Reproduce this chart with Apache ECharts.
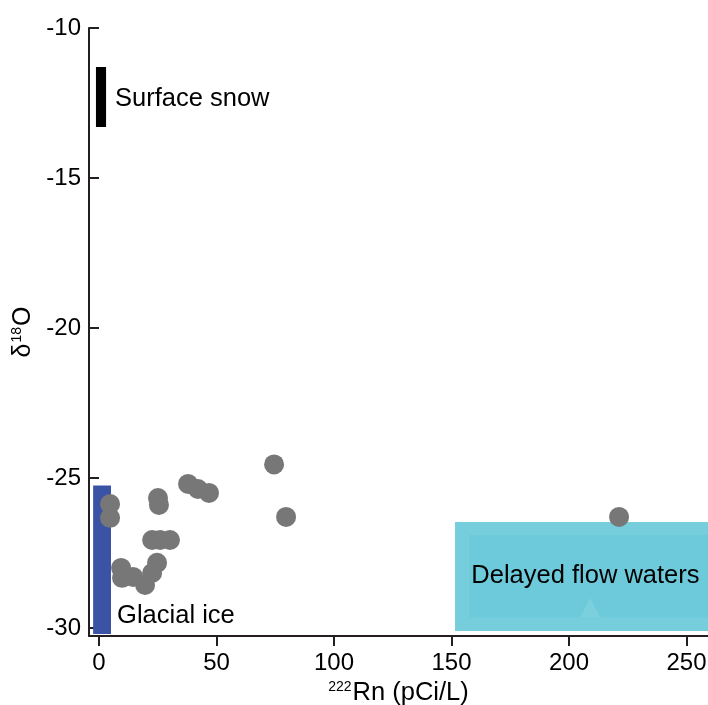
<!DOCTYPE html>
<html>
<head>
<meta charset="utf-8">
<script src="https://cdn.jsdelivr.net/npm/echarts@6/dist/echarts.min.js"></script>
<style>html,body{margin:0;padding:0;background:#fff}#c{width:708px;height:705px}</style>
</head>
<body>
<div id="c"></div>
<script>
// Samples: [Rn-222 (pCi/L), delta18O]
const samples = [
  [4.7, -25.87], [4.7, -26.33],
  [9.4, -28.0], [9.8, -28.33], [14.5, -28.3], [19.6, -28.57], [22.6, -28.17], [24.7, -27.83],
  [22.6, -27.07], [26.0, -27.07], [30.2, -27.07],
  [25.1, -25.67], [25.5, -25.9],
  [37.9, -25.2], [42.1, -25.37], [46.8, -25.5],
  [74.5, -24.55], [79.6, -26.3], [221.3, -26.3]
];
// End-member ranges: [xFrom, xTo, yFrom, yTo]
const surfaceSnow = [-1.3, 3.0, -11.3, -13.3];
const glacialIce = [-2.5, 5.1, -25.25, -30.2];
const delayedFlow = [151.5, 262, -26.47, -30.1];
const delayedFlowInner = [157.5, 262, -26.9, -29.65];
// Labels: [x, y, text]
const labels = [
  [6.8, -12.35, 'Surface snow'],
  [7.7, -29.6, 'Glacial ice'],
  [207.0, -28.28, 'Delayed flow waters']
];
const xTicks = [0, 50, 100, 150, 200, 250];
const yTicks = [-30, -25, -20, -15, -10];

const FONT = '"Liberation Sans", Arial, Helvetica, sans-serif';

function rectItem(r, color) {
  return function (params, api) {
    const p0 = api.coord([r[0], r[2]]);
    const p1 = api.coord([r[1], r[3]]);
    return {
      type: 'rect',
      shape: { x: Math.min(p0[0], p1[0]), y: Math.min(p0[1], p1[1]), width: Math.abs(p1[0] - p0[0]), height: Math.abs(p1[1] - p0[1]) },
      style: { fill: color }
    };
  };
}

const chart = echarts.init(document.getElementById('c'), null, { renderer: 'canvas' });
chart.setOption({
  animation: false,
  backgroundColor: '#ffffff',
  grid: { left: 89, right: 0, top: 28, bottom: 69, containLabel: false, outerBoundsMode: 'none' },
  xAxis: {
    type: 'value', min: -4.26, max: 259.15,
    splitLine: { show: false },
    axisLine: { onZero: false, lineStyle: { color: '#231f20', width: 2 } },
    axisTick: { show: true, inside: false, length: 10, customValues: xTicks, lineStyle: { color: '#231f20', width: 2 } },
    axisLabel: { customValues: xTicks, fontSize: 24, color: '#000', fontFamily: FONT, margin: 15 },
    name: '{s|222}{n|Rn (pCi/L)}',
    nameLocation: 'middle', nameGap: 42,
    nameTextStyle: {
      fontFamily: FONT,
      rich: {
        s: { fontSize: 14, fontFamily: FONT, color: '#000', verticalAlign: 'top', padding: [0, 1, 10, 0] },
        n: { fontSize: 25.5, fontFamily: FONT, color: '#000' }
      }
    }
  },
  yAxis: {
    type: 'value', min: -30.27, max: -10,
    splitLine: { show: false },
    axisLine: { onZero: false, lineStyle: { color: '#231f20', width: 2 } },
    axisTick: { show: true, inside: true, length: 10, customValues: yTicks, lineStyle: { color: '#231f20', width: 2 } },
    axisLabel: { customValues: yTicks, fontSize: 24, color: '#000', fontFamily: FONT, margin: 8 },
    name: '{n|δ}{s|18}{n|O}',
    nameLocation: 'middle', nameGap: 50,
    nameTextStyle: {
      fontFamily: FONT,
      rich: {
        s: { fontSize: 14, fontFamily: FONT, color: '#000', verticalAlign: 'top', padding: [0, 1, 10, 1] },
        n: { fontSize: 25, fontFamily: FONT, color: '#000' }
      }
    }
  },
  series: [
    { type: 'custom', renderItem: rectItem(delayedFlow, '#76cedc'), data: [0], z: 1, silent: true, clip: true },
    { type: 'custom', renderItem: rectItem(delayedFlowInner, '#6dcadb'), data: [0], z: 2, silent: true, clip: true },
    { type: 'custom', renderItem: rectItem(surfaceSnow, '#000000'), data: [0], z: 2, silent: true },
    { type: 'custom', renderItem: rectItem(glacialIce, '#3a53a4'), data: [0], z: 2, silent: true },
    {
      type: 'custom', z: 3, silent: true, data: [[209, -29.0, -29.65, 4.3]],
      renderItem: function (params, api) {
        const apex = api.coord([api.value(0), api.value(1)]);
        const l = api.coord([api.value(0) - api.value(3), api.value(2)]);
        const r = api.coord([api.value(0) + api.value(3), api.value(2)]);
        return { type: 'polygon', shape: { points: [apex, l, r] }, style: { fill: '#7bd0dd' } };
      }
    },
    {
      type: 'custom', z: 6, silent: true, data: labels,
      renderItem: function (params, api) {
        const d = labels[params.dataIndex];
        const p = api.coord([d[0], d[1]]);
        const center = d[2] === 'Delayed flow waters';
        return {
          type: 'text', x: p[0], y: p[1],
          style: { text: d[2], fontSize: 25.5, fontFamily: FONT, fill: '#000', align: center ? 'center' : 'left', verticalAlign: 'middle' }
        };
      }
    },
    {
      type: 'scatter', data: samples, symbolSize: 20, z: 5,
      itemStyle: { color: '#777777', opacity: 1 }
    }
  ]
});
</script>
</body>
</html>
